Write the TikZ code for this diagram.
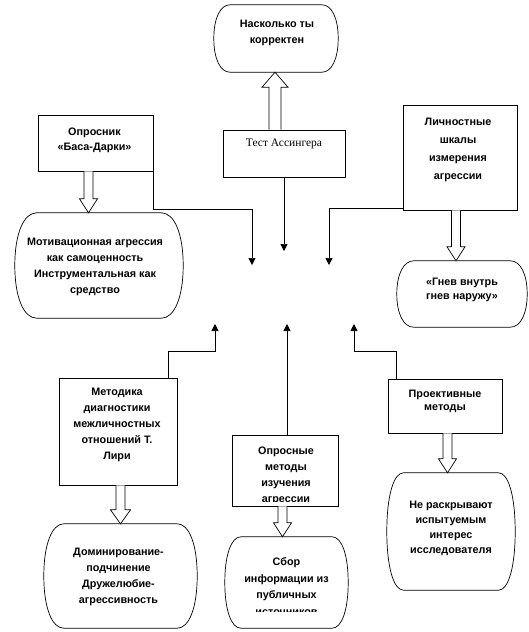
\documentclass[tikz,border=0pt]{standalone}
\usepackage{fontspec}
\setmainfont{Liberation Sans}
\newfontfamily\serifru{Liberation Serif}
\usetikzlibrary{arrows.meta,calc}

\tikzset{
  box/.style={draw, line width=0.7pt, rectangle, inner sep=0pt},
  frame/.style={rectangle, inner sep=0pt},
  lbl/.style={font=\bfseries\fontsize{10.8}{#1}\selectfont, align=center, inner sep=0pt, anchor=north},
  lbl/.default=16,
  conn/.style={draw, line width=0.7pt, -{Triangle[length=7pt,width=7pt]}},
  blk/.style={draw, line width=0.7pt, fill=white},
  blobline/.style={draw, line width=0.7pt},
}

% block arrow pointing down: #1 start (x used), #2 end (y used), #3 half shaft, #4 half head, #5 head length
\newcommand\blkdown[5]{\draw[blk] let \p1=(#1), \p2=(#2) in
  (\x1-#3,\y1) -- (\x1-#3,\y2+#5) -- (\x1-#4,\y2+#5) -- (\x1,\y2) -- (\x1+#4,\y2+#5) -- (\x1+#3,\y2+#5) -- (\x1+#3,\y1);}
\newcommand\blkup[5]{\draw[blk] let \p1=(#1), \p2=(#2) in
  (\x1-#3,\y1) -- (\x1-#3,\y2-#5) -- (\x1-#4,\y2-#5) -- (\x1,\y2) -- (\x1+#4,\y2-#5) -- (\x1+#3,\y2-#5) -- (\x1+#3,\y1);}
% rounded "barrel" shape drawn around a frame node
\newcommand\blob[1]{\draw[blobline] let \p1=(#1.south west), \p2=(#1.north east),
  \n1={0.13*(\x2-\x1)}, \n2={0.5*(\y1+\y2)}, \n3={0.5*(\y2-\y1)} in
  (\x1+\n1,\y2) -- (\x2-\n1,\y2)
  .. controls (\x2-0.4*\n1,\y2) and (\x2,\n2+0.6*\n3) .. (\x2,\n2)
  .. controls (\x2,\n2-0.6*\n3) and (\x2-0.4*\n1,\y1) .. (\x2-\n1,\y1)
  -- (\x1+\n1,\y1)
  .. controls (\x1+0.4*\n1,\y1) and (\x1,\n2-0.6*\n3) .. (\x1,\n2)
  .. controls (\x1,\n2+0.6*\n3) and (\x1+0.4*\n1,\y2) .. (\x1+\n1,\y2) -- cycle;}

\begin{document}
\begin{tikzpicture}[x=1pt,y=-1pt]
\useasboundingbox (0,0) rectangle (529,632);

% ---- frames (boxes and rounded shapes)
\node[frame, minimum width=124, minimum height=67] (bt) at (276,38.5) {};
\node[box, minimum width=122, minimum height=47] (test) at (284,153.5) {};
\node[box, minimum width=115, minimum height=56] (opr) at (95.5,143) {};
\node[box, minimum width=114, minimum height=105] (lich) at (460,157.5) {};
\node[frame, minimum width=168, minimum height=105] (mot) at (99,265.5) {};
\node[frame, minimum width=130, minimum height=66] (gnev) at (462,294) {};
\node[box, minimum width=118, minimum height=107] (liri) at (118,431.5) {};
\node[box, minimum width=106, minimum height=71] (opr2) at (285,470.5) {};
\node[box, minimum width=114, minimum height=54] (proj) at (445,406) {};
\node[frame, minimum width=128, minimum height=117] (ne) at (451,531.5) {};
\node[frame, minimum width=153, minimum height=104] (dom) at (120.5,576) {};
\node[frame, minimum width=123, minimum height=91] (sbor) at (286.5,582.5) {};

\blob{bt}
\blob{mot}
\blob{gnev}
\blob{ne}
\blob{dom}
\blob{sbor}

% ---- texts
\node[lbl] (bt-t) at ($(bt.north)+(1,15)$) {Насколько ты\\корректен};
\node[inner sep=0pt, anchor=north, font=\serifru\fontsize{11.5}{14}\selectfont] (test-t) at ($(test.north)+(0,9)$) {Тест Ассингера};
\node[lbl=15] (opr-t) at ($(opr.north)+(-1,13)$) {Опросник\\«Баса-Дарки»};
\node[lbl=18] (lich-t) at ($(lich.north)+(-2,13)$) {Личностные\\шкалы\\измерения\\агрессии};
\node[lbl=16] (mot-t) at ($(mot.north)+(-4,25)$) {Мотивационная агрессия\\как самоценность\\Инструментальная как\\средство};
\node[lbl=14] (gnev-t) at ($(gnev.north)+(0,17)$) {«Гнев внутрь\\гнев наружу»};
\node[lbl=16] (liri-t) at ($(liri.north)+(-1,10)$) {Методика\\диагностики\\межличностных\\отношений Т.\\Лири};
\begin{scope}
  \clip (opr2.north west) rectangle ($(opr2.south east)+(0,-5)$);
  \node[lbl=16] (opr2-t) at ($(opr2.north)+(1,12)$) {Опросные\\методы\\изучения\\агрессии};
\end{scope}
\node[lbl=13.5] (proj-t) at ($(proj.north)+(0,11)$) {Проективные\\методы};
\node[lbl=15] (ne-t) at ($(ne.north)+(0,28)$) {Не раскрывают\\испытуемым\\интерес\\исследователя};
\node[lbl=16] (dom-t) at ($(dom.north)+(-2,24)$) {Доминирование-\\подчинение\\Дружелюбие-\\агрессивность};
\begin{scope}
  \clip (225,537) rectangle (348,611);
  \node[lbl=16.5] (sbor-t) at ($(sbor.north)+(0,21)$) {Сбор\\информации из\\публичных\\источников};
\end{scope}

% ---- block arrows
\blkup{$(test.north)+(-9,0)$}{bt.south}{6}{13}{15}
\blkdown{$(opr.south)+(-7,0)$}{mot.north}{4.5}{9}{14}
\blkdown{$(lich.south)+(-4,0)$}{gnev.north}{4.5}{9}{14}
\blkdown{$(liri.south)+(2.5,0)$}{dom.north}{4.5}{10}{14}
\blkdown{$(opr2.south)+(-2.5,0)$}{sbor.north}{4.5}{9}{14}
\blkdown{$(proj.south)+(2.5,0)$}{ne.north}{4.5}{9}{14}

% ---- free ends of connectors
\coordinate (tL) at (252,265);
\coordinate (tC) at (284,251);
\coordinate (tR) at (329,265);
\coordinate (bL) at (215,324);
\coordinate (bC) at (287,324);
\coordinate (bR) at (354,324);

% ---- connectors
\draw[conn] (opr.south east) -- ++(0,38) -| (tL);
\draw[conn] (test.south) -- (test.south |- tC);
\draw[conn] ($(lich.south west)+(0,-2)$) -| (tR);
\draw[conn] ($(liri.north east)+(-9,0)$) -- ++(0,-26) -| (bL);
\draw[conn] (opr2.north -| bC) -- (bC);
\draw[conn] ($(proj.north west)+(9,0)$) -- ++(0,-27) -| (bR);
\end{tikzpicture}
\end{document}
